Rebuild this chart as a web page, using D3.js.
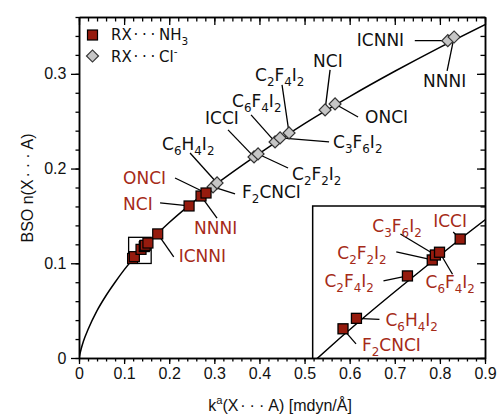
<!DOCTYPE html>
<html>
<head>
    <script src="https://d3js.org/d3.v7.min.js"></script>
    <style>
        body { margin: 0; background: #fff; }
        .tick text { font-family: "Liberation Sans", Arial, sans-serif; font-size: 16px; fill: #111; }
        .lbl { font-family: "DejaVu Sans", sans-serif; font-size: 17px; }
    </style>
</head>
<body>
    <div id="chart"></div>
    <script>
        // fitted curve
        const curveK = [0, 0.005, 0.01, 0.02, 0.04, 0.06, 0.08, 0.1, 0.15, 0.2, 0.3, 0.4, 0.5, 0.6, 0.7, 0.8, 0.9];
        const curveN = [0, 0.010, 0.018, 0.030, 0.050, 0.066, 0.080, 0.093, 0.120, 0.143, 0.182, 0.216, 0.2475, 0.276, 0.3027, 0.328, 0.352];

        // RX...NH3
        const nh3Names = ["F2CNCI", "C6H4I2", "C2F4I2", "C2F2I2", "C3F6I2", "C6F4I2", "ICCI", "ICNNI", "NCI", "NNNI", "ONCI"];
        const nh3K = [0.1188, 0.1227, 0.1375, 0.1447, 0.1456, 0.1468, 0.1528, 0.1745, 0.244, 0.2705, 0.2816];
        const nh3N = [0.1051, 0.1070, 0.1147, 0.1176, 0.1185, 0.1190, 0.1214, 0.131, 0.1605, 0.171, 0.1742];

        // RX...Cl-
        const clNames = ["F2CNCI", "C6H4I2", "ICCI", "C2F2I2", "C6F4I2", "C3F6I2", "C2F4I2", "NCI", "ONCI", "ICNNI", "NNNI"];
        const clK = [0.2971, 0.306, 0.388, 0.3969, 0.4346, 0.4457, 0.4656, 0.5455, 0.5676, 0.8175, 0.8315];
        const clN = [0.1806, 0.1848, 0.2123, 0.2154, 0.2281, 0.2323, 0.2376, 0.2619, 0.2682, 0.335, 0.3389];

        const xTicks = [0, 0.1, 0.2, 0.3, 0.4, 0.5, 0.6, 0.7, 0.8, 0.9];
        const yTicks = [0, 0.1, 0.2, 0.3];

        // label placement: text offset (tx,ty) and leader line end (lx,ly) from the marker, px
        const clLabels = {
            "ICNNI": [-91, 5, -33, 0], "NNNI": [-31, 50, -7, 34], "NCI": [-12, -43, 5, -40],
            "ONCI": [30, 19, 23, 13], "C2F4I2": [-34, -52, -7, -48], "C6F4I2": [-43, -35, -24, -27],
            "C3F6I2": [53, 10, 49, 4], "ICCI": [-49, -33, -26, -27], "C2F2I2": [34, 26, 30, 14],
            "C6H4I2": [-55, -33, -27, -30], "F2CNCI": [29, 11, 22, 7]
        };
        const nh3Labels = {
            "ONCI": [-83, -9, -31, -15], "NCI": [-66, 4, -29, -3],
            "NNNI": [-7, 38, 16, 22], "ICNNI": [21, 28, 16, 23]
        };
        const insetLabels = {
            "F2CNCI": [19, 22, 13, 15], "C6H4I2": [29, 8, 23, 1], "C2F4I2": [-83, 11, -24, 5],
            "C2F2I2": [-95, -1, -36, -8], "C3F6I2": [-63, -23, -35, -21], "C6F4I2": [-14, 36, 13, 22],
            "ICCI": [-27, -12, -7, -7]
        };

        const W = 501, H = 416;
        const redFill = "#961b0e", textRed = "#a52a18";

        const svg = d3.select("#chart").append("svg").attr("width", W).attr("height", H);

        const x = d3.scaleLinear().domain([0, 0.9]).range([79, 485]);
        const y = d3.scaleLinear().domain([0, 0.36]).range([358, 17]);

        // inset area in main coordinates and its zoomed scales
        const ix = d3.scaleLinear().domain([0.11, 0.16]).range([x(0.518), x(0.9)]);
        const iy = d3.scaleLinear().domain([0.0998, 0.1274]).range([y(0), y(0.1605)]);

        const curve = curveK.map((k, i) => [k, curveN[i]]);
        const nh3 = nh3Names.map((n, i) => ({name: n, k: nh3K[i], v: nh3N[i]}));
        const cl = clNames.map((n, i) => ({name: n, k: clK[i], v: clN[i]}));

        // text with sub/superscripts: digits -> subscript, "^x" -> superscript, wide dots
        function rich(sel, str) {
            let shift = 0;
            const parts = str.match(/\^.|\d+|···|[^\d^·]+/g);
            parts.forEach(p => {
                let target = 0, txt = p, small = false;
                if (p[0] === "^") { target = -0.45; txt = p.slice(1); small = true; }
                else if (/\d/.test(p[0])) { target = 0.3; small = true; }
                const t = sel.append("tspan").text(txt).attr("dy", (target - shift) * (small ? 1 / 0.7 : 1) + "em");
                if (small) t.style("font-size", "70%");
                if (p === "···") t.attr("dx", "0.12em").style("letter-spacing", "0.25em");
                shift = target;
            });
        }

        svg.append("defs").append("clipPath").attr("id", "plotclip")
            .append("rect").attr("x", 79).attr("y", 17).attr("width", 406).attr("height", 341);
        svg.select("defs").append("clipPath").attr("id", "insetclip")
            .append("rect").attr("x", ix.range()[0]).attr("y", iy.range()[1])
            .attr("width", ix.range()[1] - ix.range()[0]).attr("height", iy.range()[0] - iy.range()[1]);

        const line = d3.line().x(d => x(d[0])).y(d => y(d[1])).curve(d3.curveMonotoneX);
        svg.append("path").attr("d", line(curve)).attr("clip-path", "url(#plotclip)")
            .attr("fill", "none").attr("stroke", "#000").attr("stroke-width", 1.5);

        // zoom box
        svg.append("rect")
            .attr("x", x(ix.domain()[0])).attr("y", y(iy.domain()[1]))
            .attr("width", x(ix.domain()[1]) - x(ix.domain()[0]))
            .attr("height", y(iy.domain()[0]) - y(iy.domain()[1]))
            .attr("fill", "none").attr("stroke", "#000").attr("stroke-width", 1.3);

        function labels(data, lay, sx, sy, color) {
            const g = svg.append("g");
            data.filter(d => lay[d.name]).forEach(d => {
                const o = lay[d.name], px = sx(d.k), py = sy(d.v);
                g.append("line").attr("x1", px).attr("y1", py).attr("x2", px + o[2]).attr("y2", py + o[3])
                    .attr("stroke", "#000").attr("stroke-width", 1.3);
                const t = g.append("text").attr("class", "lbl").attr("x", px + o[0]).attr("y", py + o[1]).attr("fill", color);
                rich(t, d.name);
            });
        }

        labels(cl, clLabels, x, y, "#111");
        labels(nh3, nh3Labels, x, y, textRed);

        svg.append("g").selectAll("path").data(cl).join("path")
            .attr("d", d3.symbol().type(d3.symbolSquare).size(72))
            .attr("transform", d => `translate(${x(d.k)},${y(d.v)}) rotate(45)`)
            .attr("fill", "#c6c6c6").attr("stroke", "#333").attr("stroke-width", 1.2);

        svg.append("g").selectAll("rect").data(nh3).join("rect")
            .attr("x", d => x(d.k) - 5).attr("y", d => y(d.v) - 5)
            .attr("width", 10).attr("height", 10)
            .attr("fill", redFill).attr("stroke", "#000").attr("stroke-width", 1.2);

        // inset
        const ir = [ix.range()[0], iy.range()[1], ix.range()[1] - ix.range()[0], iy.range()[0] - iy.range()[1]];
        svg.append("rect").attr("x", ir[0]).attr("y", ir[1]).attr("width", ir[2]).attr("height", ir[3]).attr("fill", "#fff");
        const iline = d3.line().x(d => ix(d[0])).y(d => iy(d[1])).curve(d3.curveMonotoneX);
        svg.append("path").attr("d", iline(curve)).attr("clip-path", "url(#insetclip)")
            .attr("fill", "none").attr("stroke", "#000").attr("stroke-width", 1.5);
        const inIn = nh3.filter(d => d.k <= ix.domain()[1]);
        labels(inIn, insetLabels, ix, iy, textRed);
        svg.append("g").selectAll("rect").data(inIn).join("rect")
            .attr("x", d => ix(d.k) - 5).attr("y", d => iy(d.v) - 5)
            .attr("width", 10).attr("height", 10)
            .attr("fill", redFill).attr("stroke", "#000").attr("stroke-width", 1.3);
        svg.append("path")
            .attr("d", `M${ir[0]},${ir[1] + ir[3]}V${ir[1]}H${ir[0] + ir[2]}`)
            .attr("fill", "none").attr("stroke", "#000").attr("stroke-width", 1.5);

        // axes
        const minorX = d3.range(0, 0.9001, 0.02), minorY = d3.range(0, 0.3601, 0.02);
        function ax(gen, tr, vals, size, fmt) {
            const g = svg.append("g").attr("transform", tr)
                .call(gen.tickValues(vals).tickSize(size).tickSizeOuter(0).tickFormat(fmt));
            g.select(".domain").attr("stroke-width", 1.5);
            g.selectAll(".tick line").attr("stroke-width", 1.3);
            return g;
        }
        const fmt = d => d === 0 ? "0" : d3.format(".1f")(d);
        ax(d3.axisBottom(x), "translate(0,358)", minorX, 3.5, "");
        ax(d3.axisBottom(x), "translate(0,358)", xTicks, 6, fmt).selectAll(".tick text").attr("dy", "0.72em");
        ax(d3.axisLeft(y), "translate(79,0)", minorY, 3.5, "");
        ax(d3.axisLeft(y), "translate(79,0)", yTicks, 8, fmt).selectAll(".tick text").attr("dx", "-0.1em");
        ax(d3.axisTop(x), "translate(0,17)", minorX, -4.5, "");
        ax(d3.axisTop(x), "translate(0,17)", xTicks, -8, "");
        ax(d3.axisRight(y), "translate(485,0)", minorY, -4.5, "");
        ax(d3.axisRight(y), "translate(485,0)", yTicks, -8, "");

        // axis titles
        const xt = svg.append("text").attr("x", 280).attr("y", 411).attr("text-anchor", "middle")
            .style("font-family", "Liberation Sans, Arial, sans-serif").style("font-size", "16px").attr("fill", "#111");
        rich(xt, "k^a(X···A) [mdyn/Å]");
        const yt = svg.append("text").attr("transform", "translate(33,188) rotate(-90)").attr("text-anchor", "middle")
            .style("font-family", "Liberation Sans, Arial, sans-serif").style("font-size", "16px").attr("fill", "#111");
        rich(yt, "BSO n(X···A)");

        // legend
        const lg = svg.append("g");
        lg.append("rect").attr("x", 87.5).attr("y", 30).attr("width", 10).attr("height", 10)
            .attr("fill", redFill).attr("stroke", "#000").attr("stroke-width", 1.2);
        lg.append("path").attr("d", d3.symbol().type(d3.symbolSquare).size(72))
            .attr("transform", "translate(92.5,56) rotate(45)")
            .attr("fill", "#c6c6c6").attr("stroke", "#333").attr("stroke-width", 1.2);
        const l1 = lg.append("text").attr("class", "lbl").attr("x", 111).attr("y", 40).style("font-size", "15px").attr("fill", "#111");
        rich(l1, "RX···NH3");
        const l2 = lg.append("text").attr("class", "lbl").attr("x", 111).attr("y", 62).style("font-size", "15px").attr("fill", "#111");
        rich(l2, "RX···Cl^-");
    </script>
</body>
</html>
